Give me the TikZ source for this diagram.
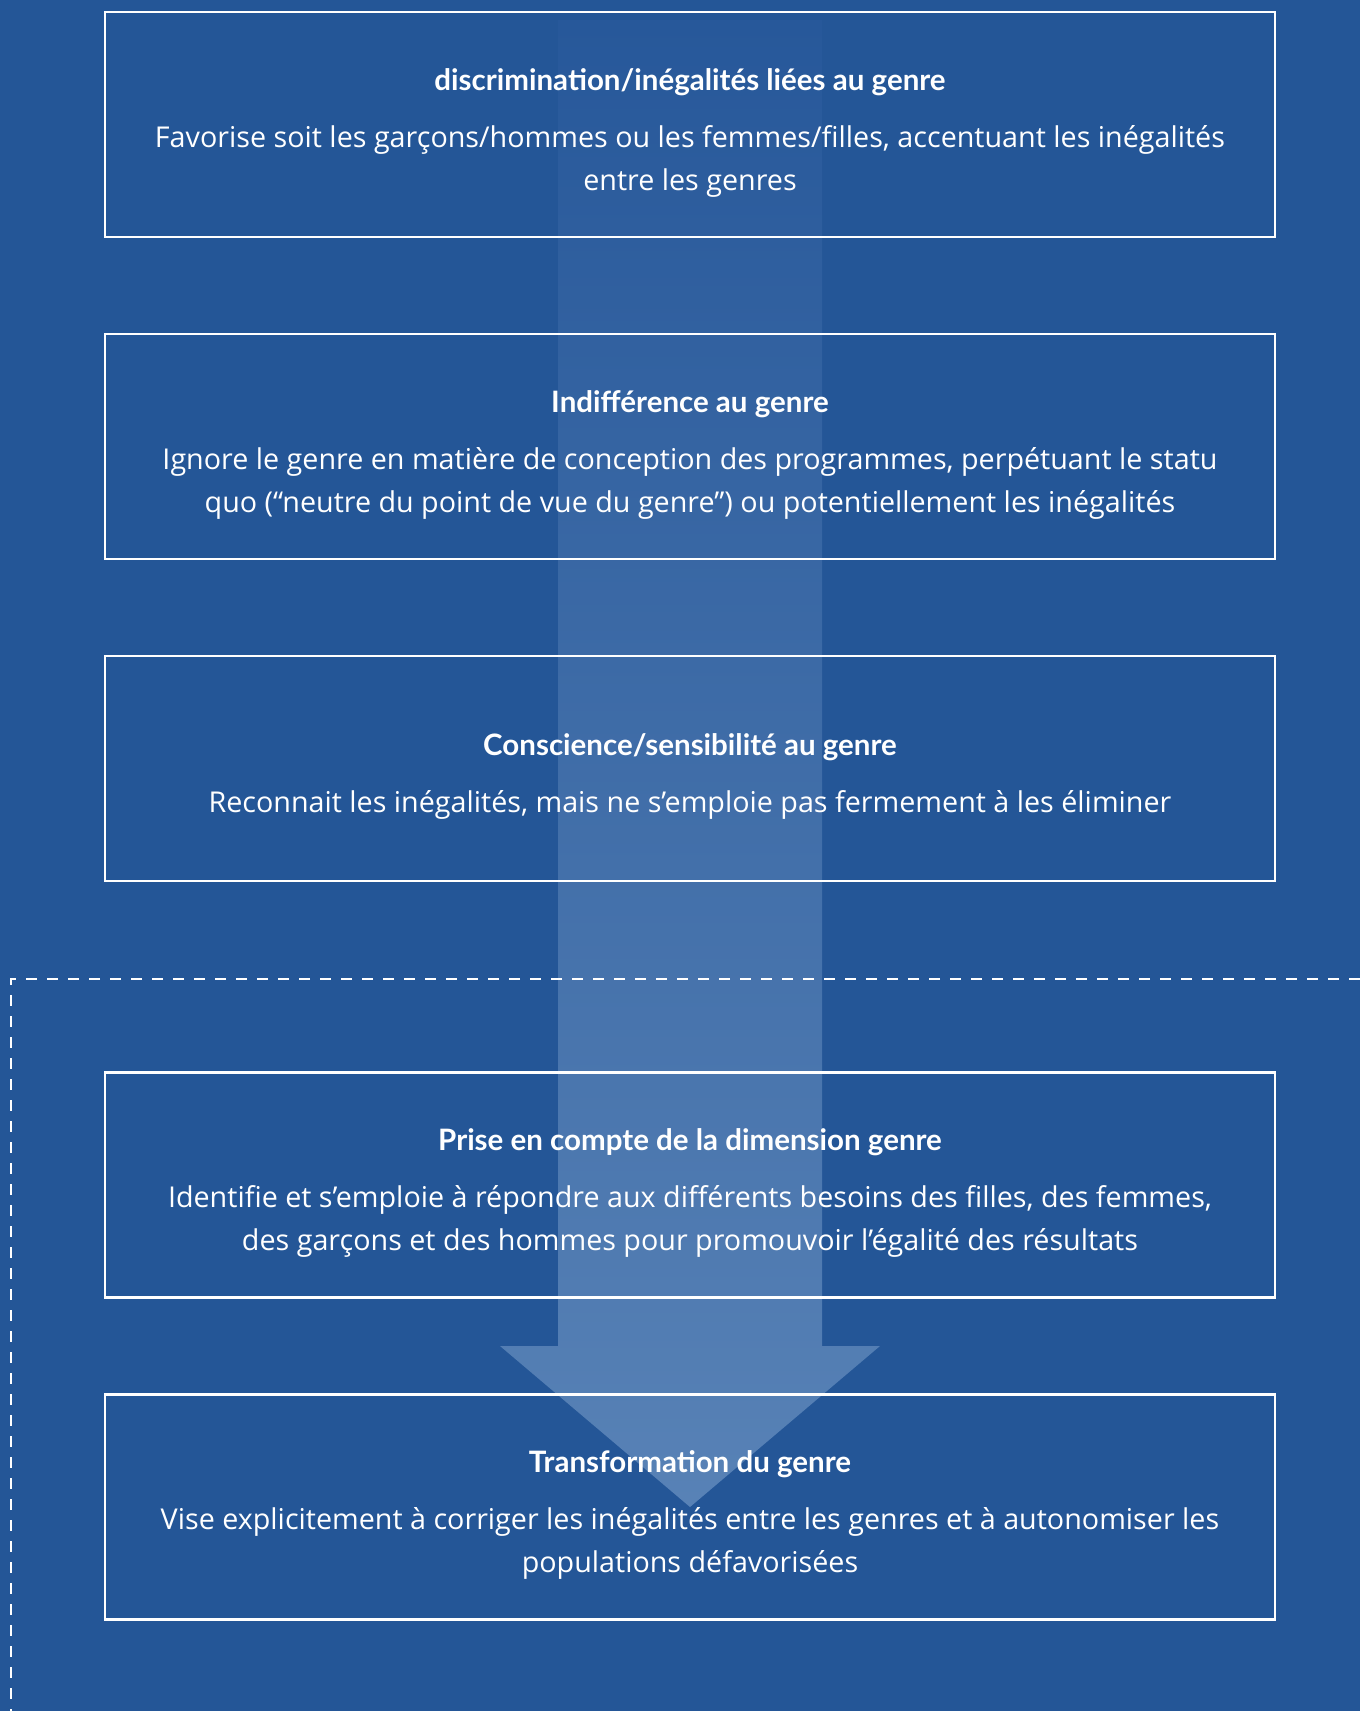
\documentclass[tikz,border=0pt]{standalone}
\usepackage{fontspec}
\setmainfont{Open Sans}
\newfontfamily\headfont{Lato}
\usetikzlibrary{positioning}
\definecolor{bgblue}{HTML}{245697}
\definecolor{arrowtop}{HTML}{27589A}
\definecolor{arrowbot}{HTML}{5882B6}

\newcommand{\stagetitle}[1]{\rule{0pt}{38pt}{\headfont\bfseries\fontsize{29.5}{34}\selectfont #1}\\[14pt]}

\begin{document}
\begin{tikzpicture}[x=1pt, y=-1pt,
    stagebox/.style={draw=white, line width=2.5pt, minimum width=1170pt,
      minimum height=225pt, text=white, align=center,
      font=\fontsize{28.7}{43}\selectfont},
    dashline/.style={draw=white, line width=2.5pt, dash pattern=on 11pt off 10pt}]
    % ---- background and frame
    \fill[bgblue] (0,0) rectangle (1360,1711);
    \useasboundingbox (0,0) rectangle (1360,1711);
    % the big arrow behind the boxes
    \shade[top color=arrowtop, bottom color=arrowbot]
      (558,20) -- (822,20) -- (822,1346) -- (880,1346) -- (690,1507)
      -- (500,1346) -- (558,1346) -- cycle;
    % ---- the five stages
    \node[stagebox] (discr) at (690,124.5)
      {\stagetitle{discrimination/inégalités liées au genre}
       Favorise soit les garçons/hommes ou les femmes/filles, accentuant les inégalités\\
       entre les genres};
    \node[stagebox, below=94.5pt of discr] (indiff)
      {\stagetitle{Indifférence au genre}
       Ignore le genre en matière de conception des programmes, perpétuant le statu\\
       quo (“neutre du point de vue du genre”) ou potentiellement les inégalités};
    \node[stagebox, below=94.5pt of indiff] (consc)
      {\stagetitle{Conscience/sensibilité au genre}
       Reconnait les inégalités, mais ne s’emploie pas fermement à les éliminer};
    \node[stagebox, below=189pt of consc] (prise)
      {\stagetitle{Prise en compte de la dimension genre}
       Identifie et s’emploie à répondre aux différents besoins des filles, des femmes,\\
       des garçons et des hommes pour promouvoir l’égalité des résultats};
    \node[stagebox, below=94.5pt of prise] (transf)
      {\stagetitle{Transformation du genre}
       Vise explicitement à corriger les inégalités entre les genres et à autonomiser les\\
       populations défavorisées};
    % ---- dashed corner round the last two stages
    \coordinate (cornerR) at (1360,979);
    \coordinate (corner) at (11,979);
    \coordinate (cornerB) at (11,1711);
    \draw[dashline] (cornerR) -- (corner) -- (cornerB);
\end{tikzpicture}
\end{document}
